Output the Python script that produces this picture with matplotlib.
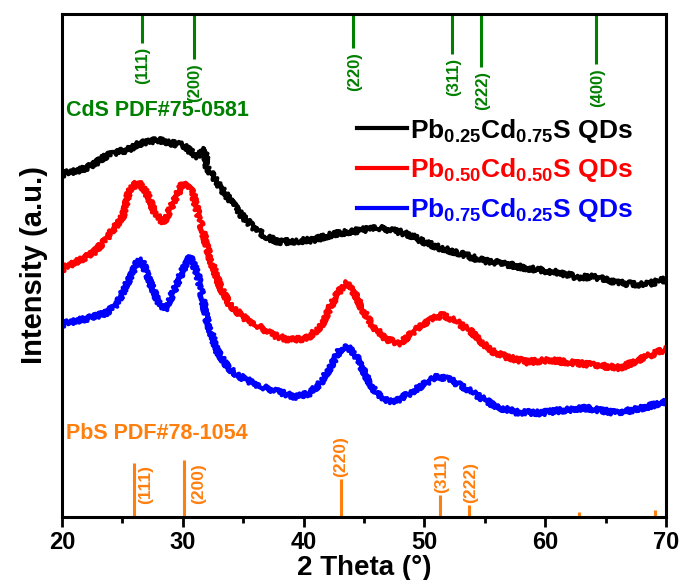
import numpy as np
import matplotlib
matplotlib.use("Agg")
import matplotlib.pyplot as plt
from matplotlib.ticker import MultipleLocator

plt.rcParams['font.family'] = ['Liberation Sans', 'DejaVu Sans']
plt.rcParams['font.weight'] = 'bold'
plt.rcParams['mathtext.fontset'] = 'custom'
plt.rcParams['mathtext.rm'] = 'Liberation Sans:bold'
plt.rcParams['mathtext.bf'] = 'Liberation Sans:bold'
plt.rcParams['mathtext.default'] = 'bf'

# XRD patterns (2 theta in degrees, intensity in arbitrary units, already offset)
theta_a = [20.0, 20.25, 21.5, 22.6, 23.4, 24.2, 25.4, 26.5, 27.9, 28.9, 30.0, 31.2, 31.8,
           32.0, 33.1, 33.9, 34.7, 35.8, 36.9, 38.0, 39.4, 40.8, 42.2, 43.6, 44.9, 45.8,
           47.2, 48.0, 48.8, 49.6, 51.3, 52.9, 54.6, 56.3, 57.9, 59.6, 61.2, 62.6, 64.0,
           66.2, 68.1, 69.8, 70.0]
int_a = [342, 344, 347, 352, 359, 364, 367, 374, 377, 374, 372, 360, 368,
         350, 330, 317, 304, 290, 280, 275, 276, 277, 282, 285, 287, 290,
         287, 285, 282, 277, 269, 264, 257, 254, 250, 247, 244, 240, 240,
         234, 232, 237, 237]

theta_b = [20.0, 20.25, 21.5, 22.6, 23.4, 24.2, 25.0, 25.6, 26.3, 27.0, 27.7, 28.4, 29.2,
           30.0, 30.8, 31.4, 32.3, 33.1, 33.9, 35.0, 36.1, 37.5, 38.9, 40.3, 41.4, 42.2,
           43.0, 43.6, 44.2, 44.9, 45.8, 46.9, 48.0, 49.3, 50.4, 51.5, 52.7, 54.0, 55.4,
           56.8, 58.5, 60.1, 61.8, 64.0, 66.2, 68.1, 69.8, 70.0]
int_b = [247, 250, 257, 264, 274, 287, 300, 327, 335, 324, 304, 294, 314,
         334, 325, 297, 257, 230, 212, 200, 192, 182, 177, 179, 190, 210,
         227, 234, 224, 207, 190, 177, 174, 187, 197, 202, 195, 184, 167,
         160, 155, 157, 155, 152, 149, 159, 167, 168]

theta_c = [20.0, 20.25, 21.5, 22.6, 23.7, 24.6, 25.4, 26.2, 26.6, 27.3, 27.9, 28.5, 29.3,
           30.0, 30.6, 31.2, 32.0, 32.8, 33.7, 34.5, 35.3, 36.6, 38.0, 39.4, 40.5, 41.4,
           42.2, 43.0, 43.7, 44.4, 45.2, 46.0, 47.2, 48.0, 49.6, 51.0, 51.9, 53.2, 54.6,
           56.0, 57.6, 59.6, 61.5, 63.5, 65.9, 68.1, 69.8, 70.0]
int_c = [192, 194, 197, 200, 204, 214, 234, 254, 257, 234, 217, 207, 227,
         247, 260, 244, 197, 167, 150, 142, 137, 130, 125, 120, 124, 134,
         150, 167, 170, 160, 140, 124, 115, 118, 130, 140, 139, 130, 120,
         110, 105, 104, 107, 109, 104, 109, 115, 116]

labels = [r'Pb$_{0.25}$Cd$_{0.75}$S QDs', r'Pb$_{0.50}$Cd$_{0.50}$S QDs',
          r'Pb$_{0.75}$Cd$_{0.25}$S QDs']
colors = ['black', '#ff0000', '#0000ff']

# CdS reference (PDF#75-0581), drawn from the top of the frame
cds_pos = [26.6, 30.9, 44.1, 52.3, 54.7, 64.2]
cds_len = [29, 45, 34, 40, 53, 50]
cds_hkl = ['(111)', '(200)', '(220)', '(311)', '(222)', '(400)']

# PbS reference (PDF#78-1054), drawn from the bottom
pbs_pos = [26.0, 30.1, 43.1, 51.3, 53.7, 62.8, 69.1]
pbs_len = [54, 57, 38, 22, 12, 5, 7]
pbs_hkl = ['(111)', '(200)', '(220)', '(311)', '(222)', '', '']

ymax = 503
green = '#008000'
orange = '#ff7f0e'

fig = plt.figure(figsize=(6.85, 5.8), dpi=100)
ax = fig.add_axes([0.0905, 0.1086, 0.8818, 0.8673])

for th, it, c, lab in zip([theta_a, theta_b, theta_c], [int_a, int_b, int_c], colors, labels):
    ln, = ax.plot(th, it, color=c, lw=3.0, label=lab, solid_joinstyle='round')
    ln.set_sketch_params(scale=2.6, length=1.6, randomness=3)

# CdS sticks
for p, l, h in zip(cds_pos, cds_len, cds_hkl):
    ax.vlines(p, ymax - l, ymax, color=green, lw=2.2)
    ax.text(p + 0.1, ymax - l - 4, h, rotation=90, ha='center', va='top',
            color=green, fontsize=12, fontweight='bold')
ax.text(20.35, 406, 'CdS PDF#75-0581', color=green, fontsize=15.5,
        fontweight='bold', va='center', ha='left')

# PbS sticks
pbs_lab_dx = [0.95, 1.25, 0.0, 0.1, 0.1, 0, 0]
for p, l, h, dx in zip(pbs_pos, pbs_len, pbs_hkl, pbs_lab_dx):
    ax.vlines(p, 0, l, color=orange, lw=2.2)
    if not h:
        continue
    if dx > 0.5:
        ax.text(p + dx, 13, h, rotation=90, ha='center', va='bottom',
                color=orange, fontsize=12.5, fontweight='bold')
    else:
        ax.text(p + dx, l + 2, h, rotation=90, ha='center', va='bottom',
                color=orange, fontsize=12.5, fontweight='bold')
ax.text(20.35, 84, 'PbS PDF#78-1054', color=orange, fontsize=15.5,
        fontweight='bold', va='center', ha='left')

ax.set_xlim(20, 70)
ax.set_ylim(0, ymax)
ax.xaxis.set_major_locator(MultipleLocator(10))
ax.xaxis.set_minor_locator(MultipleLocator(5))
ax.set_yticks([])
ax.tick_params(axis='x', which='major', length=7, width=2, pad=3, labelsize=17)
ax.tick_params(axis='x', which='minor', length=4, width=2)
for lbl in ax.get_xticklabels():
    lbl.set_fontweight('bold')
for s in ax.spines.values():
    s.set_linewidth(2.2)

ax.set_xlabel('2 Theta (°)', fontsize=20, fontweight='bold', labelpad=1)
ax.set_ylabel('Intensity (a.u.)', fontsize=21, fontweight='bold', labelpad=10)

leg = ax.legend(loc='upper left', bbox_to_anchor=(0.488, 0.796), frameon=False,
                fontsize=19, handlelength=1.9, handletextpad=0.1,
                labelspacing=0.45, borderpad=0, borderaxespad=0,
                labelcolor='linecolor')
for h in leg.legend_handles:
    h.set_linewidth(3)
    h.set_sketch_params(None)

fig.savefig('out.png', dpi=100)
